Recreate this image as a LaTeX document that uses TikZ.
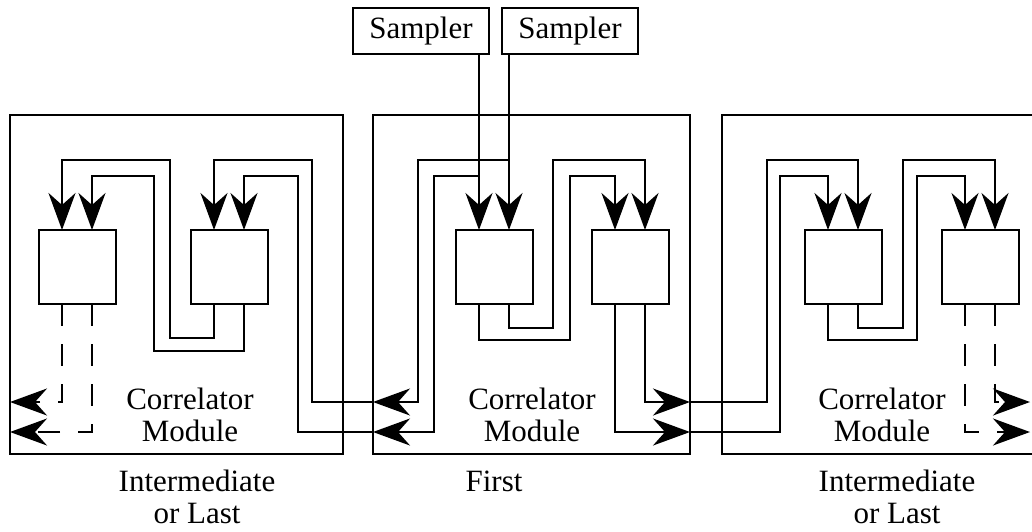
\documentclass[tikz,border=0pt]{standalone}
\usepackage{fontspec}
\setmainfont{Liberation Serif}
\usetikzlibrary{arrows.meta}
\begin{document}
\begin{tikzpicture}[x=1pt,y=-1pt,
  lw/.style={line width=2pt},
  frame/.style={draw,lw,inner sep=0pt,outer sep=0pt},
  cell/.style={draw,lw,minimum width=77pt,minimum height=74pt,inner sep=0pt,outer sep=0pt},
  smp/.style={draw,lw,minimum width=136pt,minimum height=46pt,inner sep=0pt,outer sep=0pt,font=\fontsize{31}{33}\selectfont},
  lbl/.style={font=\fontsize{31}{32}\selectfont,align=center,inner sep=0pt},
  wire/.style={lw},
  arw/.style={-{Stealth[length=37pt,width=27pt,inset=12pt]}},
  dsh/.style={dash pattern=on 22pt off 18pt},
]
\useasboundingbox (0,0) rectangle (1032,531);

% module frames
\node[frame,minimum width=333pt,minimum height=339pt] (L) at (176.5,284.5) {};
\node[frame,minimum width=317pt,minimum height=339pt] (M) at (531.5,284.5) {};
\draw[lw] (1032,115) -- (722,115) -- (722,454) -- (1032,454);

% correlator cells
\node[cell] (A) at (77,267) {};
\node[cell] (B) at (229,267) {};
\node[cell] (C) at (494,267) {};
\node[cell] (D) at (630,267) {};
\node[cell] (E) at (843,267) {};
\node[cell] (F) at (980,267) {};

% samplers
\node[smp] (s1) at (421,31) {Sampler};
\node[smp] (s2) at (570,31) {Sampler};

% ports
\foreach \n in {A,B,C,D,E,F}{
  \coordinate (\n-i1) at ([xshift=-15pt]\n.north);
  \coordinate (\n-i2) at ([xshift=15pt]\n.north);
  \coordinate (\n-o1) at ([xshift=-15pt]\n.south);
  \coordinate (\n-o2) at ([xshift=15pt]\n.south);
}

% labels
\node[lbl] (lt) at (190,415) {Correlator\\Module};
\node[lbl] (mt) at (532,415) {Correlator\\Module};
\node[lbl] (rt) at (882,415) {Correlator\\Module};
\node[lbl] (lc) at (197,497) {Intermediate\\or Last};
\node[lbl,anchor=base] (mc) at (494,491) {First};
\node[lbl] (rc) at (897,497) {Intermediate\\or Last};

% sampler feeds
\draw[wire,arw] (s1.south -| C-i1) -- (C-i1);
\draw[wire,arw] (s2.south -| C-i2) -- (C-i2);
\coordinate (j1) at (C-i2 |- 0,160);
\coordinate (j2) at (C-i1 |- 0,176);

% middle -> left module
\draw[wire,arw] (j1) -| (418,402) -- (M.west |- 0,402);
\draw[wire,arw] (M.west |- 0,402) -| (312,160) -| (B-i1);
\draw[wire,arw] (j2) -| (434,432) -- (M.west |- 0,432);
\draw[wire,arw] (M.west |- 0,432) -| (298,176) -| (B-i2);

% left module internal
\draw[wire,arw] (B-o1) |- (170,338) -- (170,160) -| (A-i1);
\draw[wire,arw] (B-o2) |- (154,351) -- (154,176) -| (A-i2);
\draw[wire,dsh,arw] (A-o1) |- (L.west |- 0,402);
\draw[wire,dsh,arw] (A-o2) |- (L.west |- 0,432);

% middle module internal
\draw[wire,arw] (C-o2) |- (553,328) -- (553,160) -| (D-i2);
\draw[wire,arw] (C-o1) |- (570,340) -- (570,176) -| (D-i1);

% middle -> right module
\draw[wire,arw] (D-o2) |- (M.east |- 0,402);
\draw[wire,arw] (M.east |- 0,402) -| (767,160) -| (E-i2);
\draw[wire,arw] (D-o1) |- (M.east |- 0,432);
\draw[wire,arw] (M.east |- 0,432) -| (780,176) -| (E-i1);

% right module internal
\draw[wire,arw] (E-o2) |- (903,328) -- (903,160) -| (F-i2);
\draw[wire,arw] (E-o1) |- (917,340) -- (917,176) -| (F-i1);
\coordinate (r1) at (1030,402);
\coordinate (r2) at (1030,432);
\draw[wire,dsh,arw] (F-o2) |- (r1);
\draw[wire,dsh,arw] (F-o1) |- (r2);
\end{tikzpicture}
\end{document}
